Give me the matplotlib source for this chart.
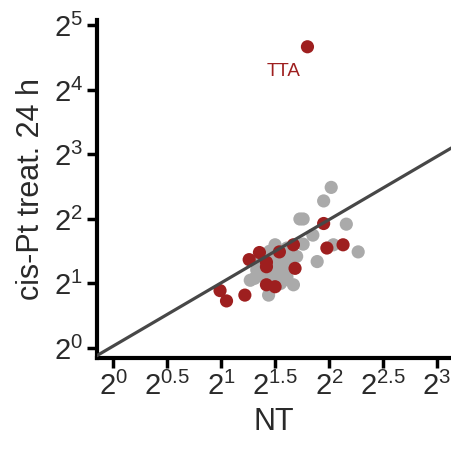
import matplotlib
matplotlib.use("Agg")
import matplotlib.pyplot as plt
import numpy as np

plt.rcParams['font.family'] = ['Liberation Sans', 'DejaVu Sans']
plt.rcParams['mathtext.fontset'] = 'custom'
plt.rcParams['mathtext.rm'] = 'Liberation Sans'
plt.rcParams['mathtext.it'] = 'Liberation Sans:italic'
plt.rcParams['mathtext.bf'] = 'Liberation Sans:bold'

# log2 values (NT, cis-Pt treat. 24 h)
gray_x = [2.02, 1.95, 1.73, 1.76, 2.16, 1.85, 1.76, 2.04, 2.27, 1.89, 1.50, 1.61,
          1.70, 1.58, 1.48, 1.33, 1.27, 1.39, 1.55, 1.61, 1.67, 1.55, 1.44, 1.31,
          1.64, 1.45, 1.52, 1.36, 1.40, 1.58, 1.45, 1.35, 1.50, 1.60, 1.48, 1.42,
          1.62]
gray_y = [2.49, 2.28, 2.00, 2.00, 1.92, 1.75, 1.61, 1.60, 1.49, 1.34, 1.60, 1.55,
          1.42, 1.39, 1.36, 1.21, 1.05, 1.16, 1.21, 1.10, 0.98, 1.00, 0.82, 1.08,
          1.26, 1.18, 1.30, 1.30, 1.45, 1.05, 1.50, 1.35, 1.25, 1.30, 1.12, 1.05,
          1.45]
red_x = [1.80, 1.95, 1.98, 2.13, 1.67, 1.54, 1.355, 1.26, 1.42, 1.42, 1.685,
         1.42, 1.50, 1.22, 0.99, 1.05]
red_y = [4.67, 1.93, 1.55, 1.60, 1.60, 1.49, 1.48, 1.37, 1.33, 1.26, 1.235,
         0.98, 0.95, 0.82, 0.89, 0.73]
label_text = "TTA"
label_pos = (1.574, 4.28)
fit_slope = 0.98
fit_intercept = 0.03

x_ticks = [0, 0.5, 1, 1.5, 2, 2.5, 3]
y_ticks = [0, 1, 2, 3, 4, 5]

red = '#9e1f1f'
grey = '#aaaaaa'

fig = plt.figure(figsize=(4.51, 4.54), dpi=100)
ax = fig.add_axes([97/451, (454-358)/454, (451-97)/451, (358-20)/454])

ax.scatter(gray_x, gray_y, s=90, color=grey, edgecolors='none', zorder=2)
ax.scatter(red_x, red_y, s=90, color=red, edgecolors='none', zorder=3)

xl = np.array([-0.2, 3.3])
ax.plot(xl, fit_slope * xl + fit_intercept, color='#474747', lw=2.3, zorder=4)

ax.text(label_pos[0], label_pos[1], label_text, color=red, fontsize=13.5,
        ha='center', va='center')

ax.set_xlim(-0.15, 3.13)
ax.set_ylim(-0.155, 5.085)
ax.set_xticks(x_ticks)
ax.set_xticklabels([r'$\mathregular{2^{%g}}$' % t for t in x_ticks])
ax.set_yticks(y_ticks)
ax.set_yticklabels([r'$\mathregular{2^{%g}}$' % t for t in y_ticks])
ax.tick_params(labelsize=21, length=7, width=2.5, color='black', pad=3,
               labelcolor='#2a2a2a')
for side in ['top', 'right']:
    ax.spines[side].set_visible(False)
for side in ['left', 'bottom']:
    ax.spines[side].set_linewidth(3)
ax.set_xlabel('NT', fontsize=22, color='#2a2a2a', labelpad=4)
ax.set_ylabel('cis-Pt treat. 24 h', fontsize=22, color='#2a2a2a', labelpad=6)

fig.savefig('out.png', dpi=100)
